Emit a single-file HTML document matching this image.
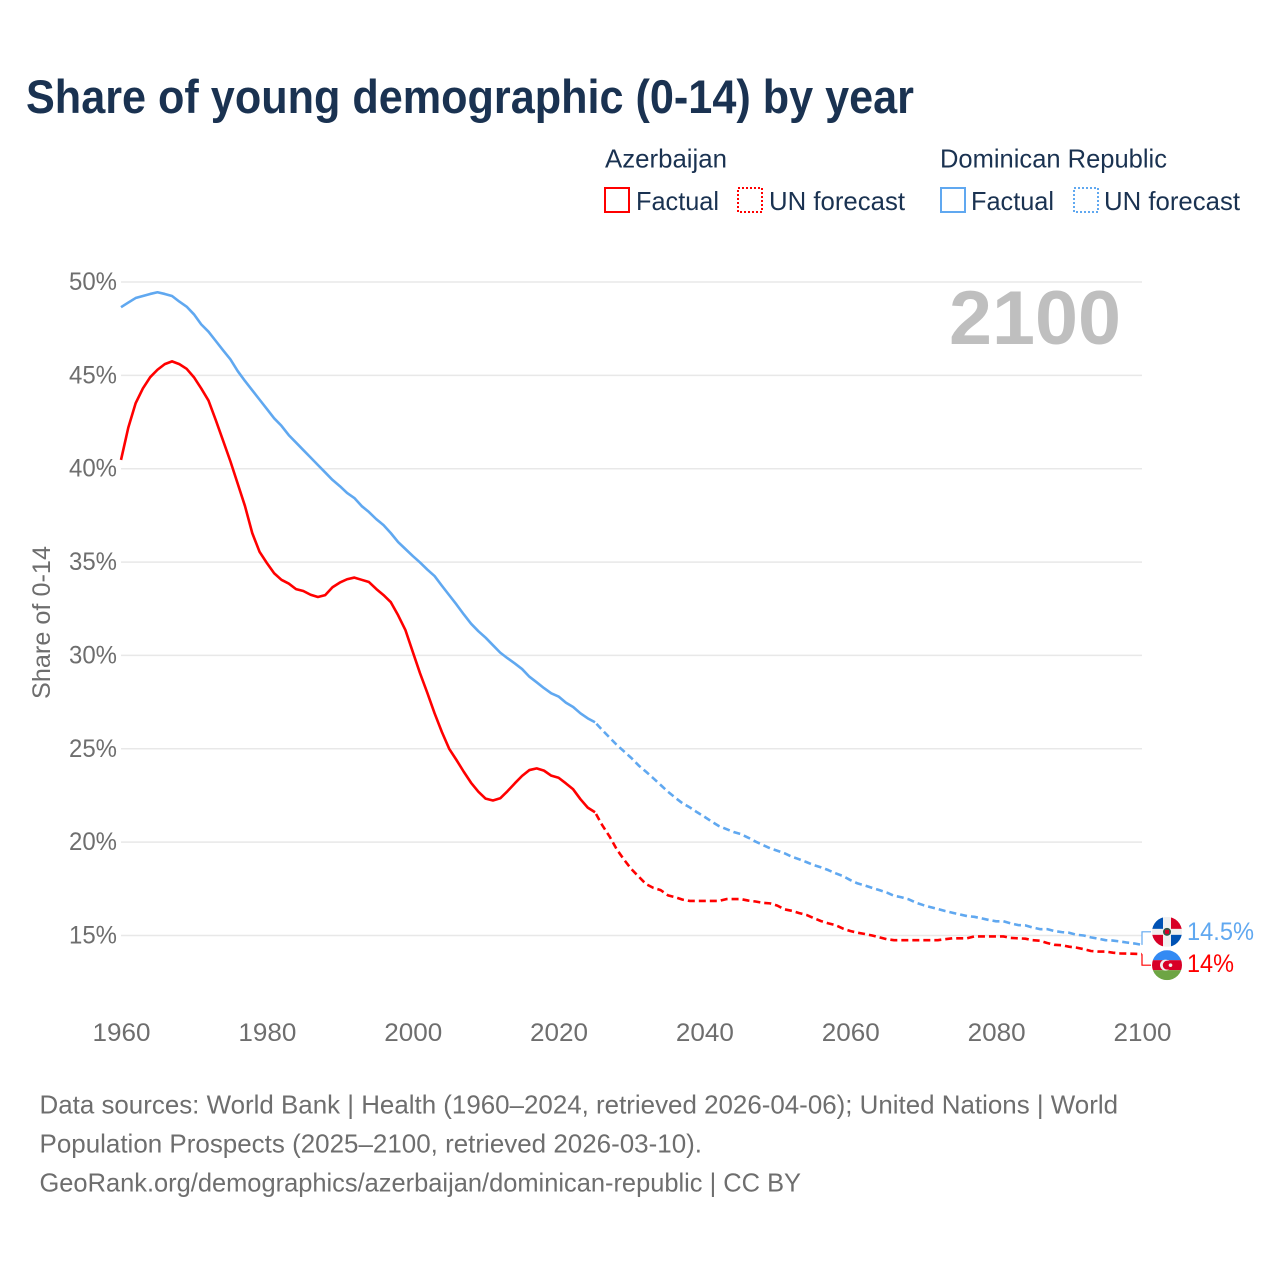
<!DOCTYPE html>
<html lang="en">
<head>
<meta charset="utf-8">
<title>Share of young demographic (0-14) by year</title>
<style>
html,body{margin:0;padding:0;background:#fff;}
svg{display:block;}
text{font-family:"Liberation Sans",sans-serif;}
</style>
</head>
<body>
<svg id="chart" xmlns="http://www.w3.org/2000/svg" width="1280" height="1280" viewBox="0 0 1280 1280">
  <rect x="0" y="0" width="1280" height="1280" fill="#ffffff"/>
  <text x="26" y="113" font-size="47" font-weight="700" fill="#1a3251" textLength="888" lengthAdjust="spacingAndGlyphs">Share of young demographic (0-14) by year</text>

  <g font-size="26" fill="#1a3251">
    <text x="605" y="167.5" textLength="122" lengthAdjust="spacingAndGlyphs">Azerbaijan</text>
    <text x="940" y="167.5" textLength="227" lengthAdjust="spacingAndGlyphs">Dominican Republic</text>
    <rect x="605" y="188" width="24" height="24" fill="none" stroke="#ff0000" stroke-width="2"/>
    <text x="636" y="210" textLength="83" lengthAdjust="spacingAndGlyphs">Factual</text>
    <rect x="738" y="188" width="24" height="24" fill="none" stroke="#ff0000" stroke-width="2" stroke-dasharray="2 2"/>
    <text x="769" y="210" textLength="136" lengthAdjust="spacingAndGlyphs">UN forecast</text>
    <rect x="941" y="188" width="24" height="24" fill="none" stroke="#60a8f0" stroke-width="2"/>
    <text x="971" y="210" textLength="83" lengthAdjust="spacingAndGlyphs">Factual</text>
    <rect x="1074" y="188" width="24" height="24" fill="none" stroke="#60a8f0" stroke-width="2" stroke-dasharray="2 2"/>
    <text x="1104" y="210" textLength="136" lengthAdjust="spacingAndGlyphs">UN forecast</text>
  </g>

  <text transform="translate(50 622.5) rotate(-90)" text-anchor="middle" font-size="25" fill="#6e6e6e" textLength="153" lengthAdjust="spacingAndGlyphs">Share of 0-14</text>

  <g id="grid"></g>
  <g id="yticks"></g>
  <g id="xticks"></g>

  <text x="949" y="344" font-size="76" font-weight="700" fill="#bfbfbf" textLength="172" lengthAdjust="spacingAndGlyphs">2100</text>

  <g id="series"></g>
  <g id="ends"></g>

  <g font-size="26" fill="#6e6e6e">
    <text x="39.5" y="1113.5" textLength="1078.5" lengthAdjust="spacingAndGlyphs">Data sources: World Bank | Health (1960–2024, retrieved 2026-04-06); United Nations | World</text>
    <text x="39.5" y="1152.5" textLength="662.5" lengthAdjust="spacingAndGlyphs">Population Prospects (2025–2100, retrieved 2026-03-10).</text>
    <text x="39.5" y="1191.5" textLength="761.5" lengthAdjust="spacingAndGlyphs">GeoRank.org/demographics/azerbaijan/dominican-republic | CC BY</text>
  </g>
</svg>

<script>
const factualStartYear = 1960;
const forecastStartYear = 2025;
const yTickValues = [15, 20, 25, 30, 35, 40, 45, 50];
const xTickYears = [1960, 1980, 2000, 2020, 2040, 2060, 2080, 2100];
const azerbaijanFactual = [40.47,42.2,43.5,44.3,44.9,45.3,45.6,45.75,45.6,45.35,44.9,44.3,43.65,42.6,41.5,40.4,39.2,38,36.55,35.55,34.95,34.4,34.05,33.85,33.55,33.45,33.25,33.13,33.23,33.65,33.9,34.08,34.17,34.05,33.93,33.56,33.23,32.85,32.15,31.36,30.2,29.05,28,26.9,25.9,25,24.4,23.77,23.18,22.7,22.33,22.23,22.35,22.73,23.15,23.55,23.86,23.95,23.83,23.56,23.45,23.15,22.83,22.3,21.85,21.6];
const azerbaijanForecast = [21.6,20.9,20.3,19.6,19.05,18.55,18.15,17.75,17.55,17.43,17.15,17.05,16.92,16.85,16.85,16.85,16.85,16.85,16.95,16.95,16.95,16.87,16.82,16.75,16.72,16.6,16.4,16.32,16.2,16.1,15.93,15.77,15.65,15.55,15.37,15.24,15.15,15.08,15,14.9,14.8,14.75,14.75,14.75,14.75,14.75,14.75,14.75,14.8,14.85,14.85,14.85,14.95,14.95,14.95,14.95,14.95,14.87,14.85,14.83,14.75,14.72,14.6,14.5,14.48,14.4,14.35,14.27,14.17,14.14,14.14,14.08,14.04,14.03,14.02,14];
const dominicanFactual = [48.65,48.9,49.14,49.25,49.36,49.45,49.36,49.25,48.95,48.68,48.27,47.73,47.34,46.84,46.34,45.86,45.23,44.7,44.2,43.7,43.2,42.7,42.3,41.8,41.4,41,40.6,40.2,39.8,39.4,39.07,38.7,38.43,38,37.68,37.3,36.98,36.55,36.07,35.7,35.33,34.98,34.6,34.25,33.73,33.23,32.73,32.2,31.7,31.3,30.95,30.55,30.15,29.85,29.57,29.27,28.86,28.56,28.25,27.97,27.8,27.47,27.24,26.9,26.63,26.42];
const dominicanForecast = [26.42,26,25.6,25.2,24.85,24.5,24.1,23.77,23.42,23.06,22.7,22.38,22.08,21.86,21.6,21.36,21.1,20.86,20.7,20.54,20.43,20.24,20.03,19.85,19.67,19.54,19.4,19.22,19.08,18.93,18.77,18.65,18.5,18.33,18.18,17.97,17.79,17.68,17.55,17.43,17.3,17.13,17.05,16.94,16.76,16.63,16.52,16.42,16.31,16.22,16.13,16.04,16,15.92,15.83,15.76,15.76,15.65,15.56,15.54,15.43,15.34,15.34,15.24,15.18,15.15,15.04,15,14.9,14.83,14.75,14.73,14.68,14.62,14.57,14.5];
const endLabelDominican = "14.5%";
const endLabelAzerbaijan = "14%";

const SVG_NS = "http://www.w3.org/2000/svg";
const RED = "#ff0000";
const BLUE = "#60a8f0";
const LINE_WIDTH = 2.6;
const xMin = 1960, xMax = 2100, yTop = 50, yBottom = 15;
function xScale(year) { return 121 + (year - xMin) * (1142 - 121) / (xMax - xMin); }
function yScale(v) { return 282 + (yTop - v) * (935.5 - 282) / (yTop - yBottom); }
function make(tag, attrs, parent) {
  const el = document.createElementNS(SVG_NS, tag);
  for (const k in attrs) el.setAttribute(k, attrs[k]);
  parent.appendChild(el);
  return el;
}

const gridG = document.getElementById("grid");
const yTicksG = document.getElementById("yticks");
const xTicksG = document.getElementById("xticks");
const seriesG = document.getElementById("series");
const endsG = document.getElementById("ends");

yTickValues.forEach(function (v) {
  const line = make("line", {x1: 121, x2: 1142, y1: yScale(v), y2: yScale(v), stroke: "#e8e8e8", "stroke-width": 1.5}, gridG);
  
  
  const t = make("text", {x: 117, y: yScale(v) + 8, "text-anchor": "end", "font-size": 25, fill: "#6e6e6e", textLength: 48, lengthAdjust: "spacingAndGlyphs"}, yTicksG);
  t.textContent = v + "%";
  
  
});

xTickYears.forEach(function (yr) {
  const t = make("text", {x: xScale(yr) + 0.5, y: 1041, "text-anchor": "middle", "font-size": 25, fill: "#6e6e6e", textLength: 58, lengthAdjust: "spacingAndGlyphs"}, xTicksG);
  t.textContent = String(yr);
  
  
});

function linePoints(values, startYear) {
  return values.map(function (v, i) {
    return xScale(startYear + i).toFixed(2) + "," + yScale(v).toFixed(2);
  }).join(" ");
}

const dominicanFactualLine = make("polyline", {points: linePoints(dominicanFactual, factualStartYear), fill: "none", stroke: BLUE, "stroke-width": LINE_WIDTH, "stroke-linejoin": "round"}, seriesG);


const dominicanForecastLine = make("polyline", {points: linePoints(dominicanForecast, forecastStartYear), fill: "none", stroke: BLUE, "stroke-width": LINE_WIDTH, "stroke-linejoin": "round", "stroke-dasharray": "7 4", "stroke-dashoffset": -2}, seriesG);


const azerbaijanFactualLine = make("polyline", {points: linePoints(azerbaijanFactual, factualStartYear), fill: "none", stroke: RED, "stroke-width": LINE_WIDTH, "stroke-linejoin": "round"}, seriesG);


const azerbaijanForecastLine = make("polyline", {points: linePoints(azerbaijanForecast, forecastStartYear), fill: "none", stroke: RED, "stroke-width": LINE_WIDTH, "stroke-linejoin": "round", "stroke-dasharray": "7 4", "stroke-dashoffset": -2}, seriesG);



const domEndY = yScale(dominicanForecast[dominicanForecast.length - 1]);
const azeEndY = yScale(azerbaijanForecast[azerbaijanForecast.length - 1]);
const domLabelY = domEndY - 13;
const azeLabelY = azeEndY + 11;
const flagX = 1167;

const domConnector = make("polyline", {points: "1142," + domEndY + " 1142," + domLabelY + " 1151," + domLabelY, fill: "none", stroke: BLUE, "stroke-width": 1.2}, endsG);


const azeConnector = make("polyline", {points: "1142," + azeEndY + " 1142," + azeLabelY + " 1151," + azeLabelY, fill: "none", stroke: RED, "stroke-width": 1.2}, endsG);



/* Dominican Republic flag */
const domFlag = make("g", {transform: "translate(" + flagX + " " + domLabelY + ")"}, endsG);


const clipDefs = make("defs", {}, endsG);
const clip = make("clipPath", {id: "flagClip"}, clipDefs);
make("circle", {cx: 0, cy: 0, r: 15}, clip);
const domInner = make("g", {"clip-path": "url(#flagClip)"}, domFlag);
make("rect", {x: -15, y: -15, width: 30, height: 30, fill: "#f0f0f0"}, domInner);
make("rect", {x: -15, y: -15, width: 11, height: 12, fill: "#0052b4"}, domInner);
make("rect", {x: 4, y: -15, width: 11, height: 12, fill: "#d80027"}, domInner);
make("rect", {x: -15, y: 3, width: 11, height: 12, fill: "#d80027"}, domInner);
make("rect", {x: 4, y: 3, width: 11, height: 12, fill: "#0052b4"}, domInner);
make("circle", {cx: 0, cy: 0, r: 4, fill: "#335a4a"}, domInner);
make("rect", {x: -2, y: -2, width: 4, height: 4, fill: "#d80027"}, domInner);

/* Azerbaijan flag */
const azeFlag = make("g", {transform: "translate(" + flagX + " " + azeLabelY + ")"}, endsG);


const azeInner = make("g", {"clip-path": "url(#flagClip)"}, azeFlag);
make("rect", {x: -15, y: -15, width: 30, height: 10, fill: "#338af3"}, azeInner);
make("rect", {x: -15, y: -5, width: 30, height: 10, fill: "#d80027"}, azeInner);
make("rect", {x: -15, y: 5, width: 30, height: 10, fill: "#6da544"}, azeInner);
make("circle", {cx: -1.5, cy: 0, r: 5.5, fill: "#f0f0f0"}, azeInner);
make("circle", {cx: 0.3, cy: 0, r: 4.5, fill: "#d80027"}, azeInner);
make("circle", {cx: 3.5, cy: 0, r: 1.8, fill: "#f0f0f0"}, azeInner);

const domLabel = make("text", {x: 1187, y: domLabelY + 8, "font-size": 25, fill: BLUE, textLength: 67, lengthAdjust: "spacingAndGlyphs"}, endsG);
domLabel.textContent = endLabelDominican;


const azeLabel = make("text", {x: 1187, y: azeLabelY + 7, "font-size": 25, fill: RED, textLength: 47, lengthAdjust: "spacingAndGlyphs"}, endsG);
azeLabel.textContent = endLabelAzerbaijan;


</script>
</body>
</html>
